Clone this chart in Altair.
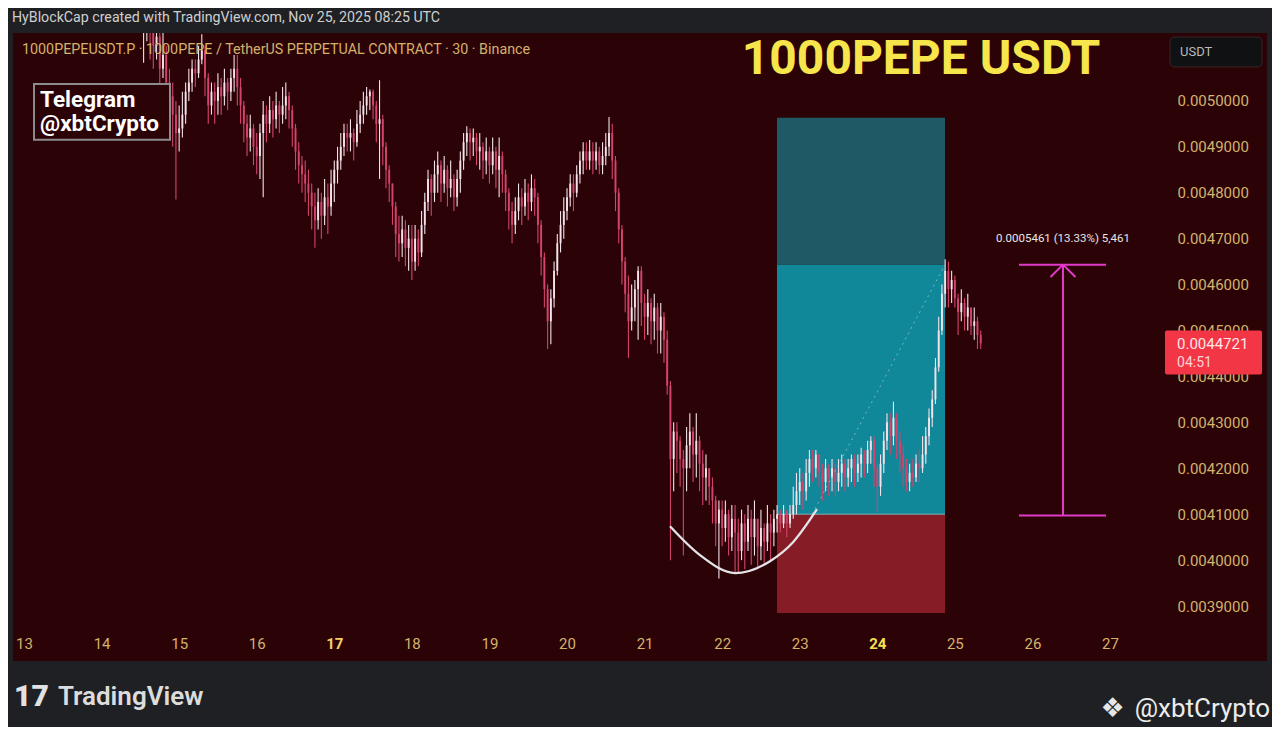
import altair as alt
import pandas as pd

# ---------------- data ----------------
START_HOUR = 37      # first hourly candle: 14 Nov 13:00 UTC (hours after 13 Nov 00:00)
UNIT = 1e-7          # prices below are in units of 0.0000001 USDT
FIRST_OPEN = 51500

CLOSE = [
    # 14 Nov 13:00-23:00
    51700, 51900, 51500, 51200, 51400, 50700, 51000, 50400, 50100, 49700, 49300,
    # 15 Nov
    49400, 49700, 50200, 50400, 50700, 50600, 50900, 51100, 50500, 49900, 50200, 50000,
    50300, 50100, 50400, 50200, 50500, 50700, 50300, 49900, 49500, 49200, 49400, 49000,
    # 16 Nov
    48800, 49300, 49700, 49500, 49800, 49600, 49900, 49700, 49900, 50100, 49800, 49400,
    48900, 48600, 48400, 48200, 48000, 47700, 47400, 47800, 47500, 47900, 47700, 48200,
    # 17 Nov
    48500, 48700, 49000, 49300, 49200, 49300, 49100, 49500, 49700, 49900, 50100, 50200,
    49900, 49500, 49600, 49000, 48500, 48200, 47700, 47100, 46900, 47200, 46800, 47000,
    # 18 Nov
    46500, 47000, 46700, 47300, 47800, 48300, 48000, 48400, 48600, 48200, 48500, 48100,
    48300, 47900, 48300, 48700, 49100, 49300, 49100, 49200, 48900, 49000, 48700, 48900,
    # 19 Nov
    48600, 48900, 48500, 48800, 48400, 48000, 47600, 47300, 47600, 47900, 47700, 48000,
    47800, 48100, 47900, 47300, 46600, 45900, 45200, 45700, 46300, 46900, 47300, 47600,
    # 20 Nov
    47900, 48200, 48000, 48400, 48700, 48900, 48700, 48900, 48700, 48900, 48600, 48800,
    49000, 49300, 48700, 48000, 47200, 46500, 45800, 45200, 45500, 45900, 46300, 45600,
    # 21 Nov
    45300, 45600, 45200, 45500, 45000, 45300, 44800, 43800, 42200, 42800, 42600, 42200,
    42000, 42500, 42800, 42300, 42600, 42100, 41800, 42000, 41600, 41300, 40800, 41100,
    # 22 Nov
    40700, 41000, 40500, 40900, 40600, 40200, 40800, 40400, 40900, 40500, 40900, 40300,
    40700, 40400, 40800, 40600, 40900, 41000, 40800, 41000, 40800, 41000, 41200, 41500,
    # 23 Nov
    41700, 41500, 41900, 42200, 42000, 42300, 41900, 41700, 42000, 41800, 42000, 41700,
    41900, 42100, 41800, 42000, 42200, 41900, 42100, 42300, 42100, 42400, 42600, 42000,
    # 24 Nov
    41600, 42100, 42600, 43000, 42700, 43100, 42600, 42300, 42000, 41700, 41900, 41800,
    42100, 42000, 42300, 42700, 43100, 43500, 44200, 45000, 45800, 46300, 45900, 46100,
    # 25 Nov 00:00-08:00
    45700, 45400, 45600, 45300, 45500, 45100, 45200, 44900, 44721,
]
HIGH = [
    52200, 52300, 52100, 51800, 51900, 51600, 51500, 51200, 50700, 50400, 50000,
    49900, 50200, 50400, 50700, 50900, 50900, 51200, 51450, 51200, 50600, 50400, 50400,
    50600, 50500, 50700, 50500, 50700, 51000, 51000, 50500, 50000, 49700, 49700, 49500,
    49300, 49500, 50000, 49900, 50100, 50000, 50200, 50000, 50300, 50400, 50200, 49900,
    49500, 49100, 48800, 48700, 48500, 48200, 48000, 48100, 48000, 48300, 48200, 48500,
    48700, 49000, 49300, 49500, 49500, 49600, 49400, 49800, 50000, 50200, 50300, 50250,
    50250, 50000, 50450, 49700, 49100, 48600, 48200, 47800, 47500, 47500, 47400, 47300,
    47300, 47300, 47200, 47600, 48000, 48500, 48400, 48700, 48900, 48700, 48800, 48600,
    48700, 48400, 48500, 48900, 49300, 49450, 49400, 49400, 49300, 49300, 49100, 49200,
    49000, 49200, 49000, 49200, 48900, 48500, 48100, 47800, 47900, 48200, 48100, 48300,
    48200, 48400, 48300, 48000, 47400, 46700, 46000, 45900, 46500, 47100, 47600, 47900,
    48100, 48400, 48400, 48600, 48900, 49100, 49100, 49150, 49100, 49100, 49000, 49100,
    49300, 49650, 49500, 48800, 48100, 47300, 46600, 46200, 46000, 46100, 46400, 46400,
    45800, 45900, 45700, 45800, 45600, 45600, 45400, 45000, 43900, 43000, 43000, 42700,
    42400, 42900, 43200, 42900, 43200, 42700, 42400, 42300, 42000, 41800, 41400, 41300,
    41300, 41300, 41100, 41200, 41200, 40900, 41100, 41000, 41200, 41100, 41300, 40900,
    41100, 40800, 41200, 41000, 41100, 41200, 41100, 41200, 41100, 41200, 41600, 41900,
    42000, 41900, 42200, 42400, 42400, 42400, 42300, 42100, 42200, 42100, 42200, 42100,
    42200, 42300, 42200, 42200, 42300, 42300, 42300, 42450, 42400, 42600, 42700, 42700,
    42100, 42300, 42800, 43200, 43200, 43450, 43200, 42800, 42500, 42200, 42100, 42200,
    42300, 42400, 42700, 42900, 43300, 43700, 44400, 45300, 46000, 46550, 46500, 46300,
    46200, 45800, 45900, 45700, 45800, 45500, 45500, 45300, 45000,
]
LOW = [
    50830, 51300, 50900, 50700, 50900, 50300, 50500, 50000, 49400, 49000, 47850,
    48900, 49200, 49500, 50000, 50200, 50300, 50500, 50800, 50100, 49500, 49700, 49500,
    49700, 49700, 49900, 49800, 50000, 50200, 49900, 49500, 49100, 48800, 48900, 48600,
    48400, 48300, 47900, 49100, 49300, 49200, 49400, 49300, 49500, 49600, 49400, 49000,
    48500, 48200, 48000, 47800, 47500, 47200, 46800, 47200, 47000, 47300, 47100, 47500,
    47800, 48200, 48500, 48800, 48900, 48900, 48700, 49000, 49300, 49500, 49700, 49800,
    49600, 49100, 48300, 48600, 48100, 47800, 47300, 46600, 46500, 46600, 46400, 46300,
    46100, 46300, 46400, 46600, 47100, 47600, 47500, 47800, 48000, 47800, 48000, 47700,
    47900, 47600, 47700, 48000, 48500, 48800, 48700, 48800, 48600, 48500, 48300, 48400,
    48200, 48400, 48100, 47900, 48000, 47600, 47200, 46900, 47100, 47400, 47300, 47500,
    47400, 47600, 47500, 46900, 46200, 45500, 44600, 44700, 45500, 46200, 46700, 47000,
    47400, 47700, 47600, 47900, 48200, 48400, 48500, 48500, 48400, 48500, 48400, 48400,
    48600, 48800, 48300, 47600, 46900, 46000, 45400, 44400, 45000, 45200, 44800, 45100,
    44800, 44900, 44700, 44800, 44500, 44500, 44300, 43600, 40000, 41500, 41900, 41600,
    40100, 41500, 42000, 41700, 41800, 41500, 41200, 41300, 41200, 40800, 40300, 39600,
    40300, 40400, 40100, 40200, 39700, 39700, 40000, 39800, 40200, 39900, 40100, 39800,
    40000, 39900, 40200, 40000, 40300, 40600, 40600, 40700, 40500, 40700, 40900, 41000,
    41200, 41100, 41300, 41600, 41700, 41800, 41600, 41300, 41500, 41400, 41500, 41400,
    41500, 41600, 41500, 41600, 41700, 41600, 41700, 41800, 41800, 41900, 42100, 41600,
    41050, 41400, 41900, 42400, 42300, 42500, 42200, 41900, 41600, 41500, 41500, 41600,
    41700, 41700, 41900, 42100, 42500, 42900, 43400, 44100, 44900, 45500, 45500, 45600,
    45500, 44900, 45200, 45000, 45000, 44900, 44800, 44600, 44600,
]

DAY_TICKS = list(range(13, 28))
PRICE_TICKS = [39000, 40000, 41000, 42000, 43000, 44000, 45000, 46000, 47000, 48000, 49000, 50000]
X_DOMAIN = [12.858, 29.024]
Y_DOMAIN = [37804, 51478]

# long position tool
POS_T = [22.707, 24.873]
POS_LEVELS = [38850, 41000, 46434, 49630]      # stop, entry, target, upper box
POS_LINE_T = [23.16, 24.873]
POS_LINE_P = [41000, 46434]

# rounded-bottom arc
ARC_T = [21.328, 21.715, 22.166, 22.617, 22.914, 23.223]
ARC_P = [40739, 40109, 39717, 39978, 40391, 41109]

# measure tool
MEAS_T = 26.394
MEAS_BAR_T = [25.827, 26.949]
MEAS_P = [40973, 46434]
MEAS_HEAD_DT = 0.161
MEAS_HEAD_DP = 270
MEAS_LABEL = "0.0005461 (13.33%) 5,461"
MEAS_LABEL_P = 47000

LAST_PRICE_TEXT = "0.0044721"
COUNTDOWN = "04:51"

# ---------------- colours ----------------
PAGE_BG = "#1f2023"
CHART_BG = "#2b0306"
GOLD = "#d4b26c"
UP = "#f3e2e9"
DOWN = "#d4436d"
TEAL_DARK = "#1e5965"
TEAL = "#11879a"
RED_BOX = "#861c25"
MAGENTA = "#e23ac8"
FONT = "Roboto"

# ---------------- frames ----------------
n = len(CLOSE)
opens = [FIRST_OPEN] + CLOSE[:-1]
candles = pd.DataFrame({
    "t": [13 + (START_HOUR + i) / 24 for i in range(n)],
    "open": [v * UNIT for v in opens],
    "close": [v * UNIT for v in CLOSE],
    "high": [v * UNIT for v in HIGH],
    "low": [v * UNIT for v in LOW],
    "dir": ["up" if CLOSE[i] >= opens[i] else "down" for i in range(n)],
})

XS = alt.Scale(domain=X_DOMAIN, nice=False, zero=False, padding=0)
YS = alt.Scale(domain=[v * UNIT for v in Y_DOMAIN], nice=False, zero=False, padding=0)

XA = alt.Axis(
    values=DAY_TICKS, orient="bottom", offset=-18, domain=False, ticks=False, tickSize=0,
    grid=False, labelPadding=0, labelBaseline="middle", labelFontSize=15, labelFont=FONT,
    labelFlush=False, labelOverlap=False, format="d", title=None,
    labelColor=alt.ExprRef(expr="datum.value == 24 ? '#f7e04e' : (datum.value == 17 ? '#f3cf6a' : '#d4b26c')"),
    labelFontWeight=alt.ExprRef(expr="(datum.value == 17 || datum.value == 24) ? 'bold' : 'normal'"),
)
YA = alt.Axis(
    values=[round(v * UNIT, 7) for v in PRICE_TICKS], orient="right", offset=-95,
    domain=False, ticks=False, tickSize=0, grid=False, labelPadding=5, labelAlign="left",
    labelBaseline="middle", labelFontSize=15, labelFont=FONT, labelColor=GOLD,
    format=".7f", title=None, labelFlush=False, labelOverlap=False,
)


def X(f="t"):
    return alt.X(f"{f}:Q", scale=XS, axis=XA)


def Y(f="p"):
    return alt.Y(f"{f}:Q", scale=YS, axis=YA)


def rect_df(t1, t2, p1, p2):
    return pd.DataFrame({"t": [t1], "t2": [t2], "p": [p1 * UNIT], "p2": [p2 * UNIT]})


def rect(df, **kw):
    return alt.Chart(df).mark_rect(**kw).encode(x=X(), x2="t2:Q", y=Y(), y2="p2:Q")


def text(t, p, s, font=FONT, **kw):
    df = pd.DataFrame({"t": [t], "p": [p * UNIT], "s": [s]})
    return alt.Chart(df).mark_text(font=font, baseline="middle", **kw).encode(x=X(), y=Y(), text="s:N")


# position boxes
stop_b, entry_b, target_b, top_b = POS_LEVELS
boxes = [
    rect(rect_df(POS_T[0], POS_T[1], target_b, top_b), color=TEAL_DARK),
    rect(rect_df(POS_T[0], POS_T[1], entry_b, target_b), color=TEAL),
    rect(rect_df(POS_T[0], POS_T[1], stop_b, entry_b), color=RED_BOX),
]

dir_color = alt.Color("dir:N", scale=alt.Scale(domain=["up", "down"], range=[UP, DOWN]), legend=None)
wicks = alt.Chart(candles).mark_rule(clip=True, strokeWidth=1.1).encode(
    x=X(), y=Y("low"), y2="high:Q", color=dir_color)
bodies = alt.Chart(candles).mark_bar(clip=True, size=1.9).encode(
    x=X(), y=Y("open"), y2="close:Q", color=dir_color)

pos_line = alt.Chart(pd.DataFrame({"t": [POS_LINE_T[0]], "t2": [POS_LINE_T[1]],
                                   "p": [POS_LINE_P[0] * UNIT], "p2": [POS_LINE_P[1] * UNIT]})).mark_rule(
    color="#a9c9cf", strokeWidth=1, strokeDash=[2, 4], opacity=0.7).encode(x=X(), x2="t2:Q", y=Y(), y2="p2:Q")

arc = alt.Chart(pd.DataFrame({"t": ARC_T, "p": [v * UNIT for v in ARC_P]})).mark_line(
    color="#e4e4e8", strokeWidth=2.3, interpolate="monotone").encode(x=X(), y=Y())

lo, hi = MEAS_P
meas_df = pd.DataFrame({
    "t": [MEAS_T, MEAS_BAR_T[0], MEAS_BAR_T[0], MEAS_T, MEAS_T],
    "t2": [MEAS_T, MEAS_BAR_T[1], MEAS_BAR_T[1], MEAS_T - MEAS_HEAD_DT, MEAS_T + MEAS_HEAD_DT],
    "p": [v * UNIT for v in [lo, lo, hi, hi, hi]],
    "p2": [v * UNIT for v in [hi, lo, hi, hi - MEAS_HEAD_DP, hi - MEAS_HEAD_DP]],
})
measure = alt.Chart(meas_df).mark_rule(color=MAGENTA, strokeWidth=2).encode(
    x=X(), x2="t2:Q", y=Y(), y2="p2:Q")

layers = boxes + [
    alt.Chart(pd.DataFrame({"t": [POS_T[0]], "t2": [POS_T[1]], "p": [entry_b * UNIT]})).mark_rule(
        color="#7fb3bb", strokeWidth=1).encode(x=X(), x2="t2:Q", y=Y()),
    wicks, bodies, pos_line, arc, measure,
    text(MEAS_T, MEAS_LABEL_P, MEAS_LABEL, align="center", fontSize=11.5, color="#e6e6e6"),
    # telegram box
    rect(rect_df(13.129, 14.882, 49152, 50370), fill=CHART_BG, stroke="#8c8c8c", strokeWidth=2),
    text(13.206, 50030, "Telegram", align="left", fontSize=22.5, fontWeight="bold", color="#ffffff"),
    text(13.206, 49490, "@xbtCrypto", align="left", fontSize=22.5, fontWeight="bold", color="#ffffff"),
    # headers
    text(12.974, 51109, "1000PEPEUSDT.P · 1000PEPE / TetherUS PERPETUAL CONTRACT · 30 · Binance",
         align="left", fontSize=14.3, color=GOLD),
    text(24.564, 50891, "1000PEPE USDT", align="center", fontSize=48, fontWeight="bold", color="#f6e54b"),
    text(12.845, 51804, "HyBlockCap created with TradingView.com, Nov 25, 2025 08:25 UTC",
         align="left", fontSize=14.2, color="#cfcfcf"),
    # USDT box
    rect(rect_df(27.774, 28.960, 50739, 51391), fill="#101113", stroke="#3b2326", strokeWidth=1,
         cornerRadius=4),
    text(27.903, 51065, "USDT", align="left", fontSize=13, color="#b9b9b9"),
    # last price label
    rect(rect_df(27.709, 28.960, 44043, 45000), fill="#f23645", cornerRadius=2),
    text(27.864, 44717, LAST_PRICE_TEXT, align="left", fontSize=15, color="#ffe6e8"),
    text(27.864, 44283, COUNTDOWN, align="left", fontSize=14, color="#ffd3d7"),
    # footer
    text(12.871, 37021, "17", align="left", fontSize=30, fontWeight=900, color="#e2e2e2"),
    text(13.438, 37021, "TradingView", align="left", fontSize=26, fontWeight=600, color="#dcdcdc"),
    text(27.035, 36760, "❖", font="DejaVu Sans", align="center", fontSize=27, color="#e6e6e6"),
    text(29.063, 36760, "@xbtCrypto", align="right", fontSize=26, color="#ececec"),
]

chart = alt.layer(*layers).properties(
    width=1254, height=628,
    padding={"left": 5, "top": 25, "right": 5, "bottom": 66},
    autosize=alt.AutoSizeParams(type="none"),
    background=PAGE_BG,
).configure_view(fill=CHART_BG, stroke=None)

chart.save("out.html", embed_options={"renderer": "svg", "actions": False})
